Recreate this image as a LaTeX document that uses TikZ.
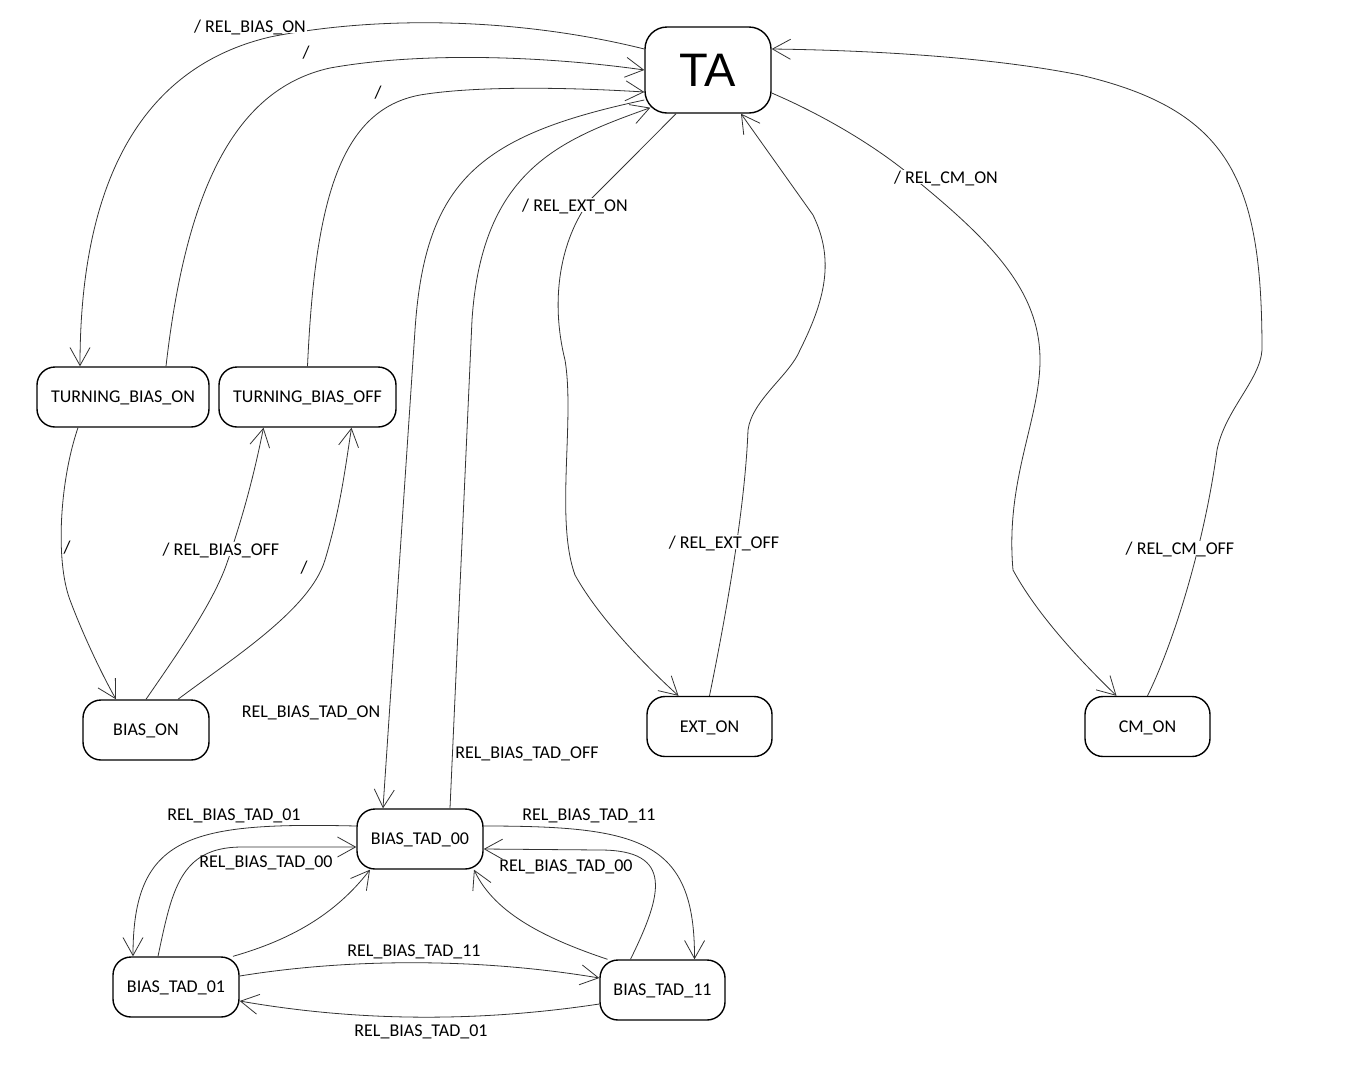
\documentclass[tikz,border=0pt]{standalone}
\usepackage{fontspec}
\setmainfont{Carlito}
\newfontfamily\tafont{Liberation Sans}
\usetikzlibrary{arrows.meta}

\begin{document}
\begin{tikzpicture}[x=1pt,y=-1pt,
	state/.style={draw, line width=1.4pt, rounded corners=18pt, minimum width=126pt, minimum height=60pt, inner sep=0pt, text depth=0pt, font=\fontsize{18}{20}\selectfont},
	bigstate/.style={state, rounded corners=22pt, minimum height=86pt, font=\tafont\fontsize{47}{50}\selectfont},
	tr/.style={draw=black!80, line width=0.8pt, -{Straight Barb[length=18pt,width=20pt]}},
	lbl/.style={font=\fontsize{18}{20}\selectfont, inner sep=1pt, text depth=0pt},
	lblcut/.style={lbl, fill=white}]
	\useasboundingbox (0,0) rectangle (1369,1069);
	% states
	\node[bigstate] (TA) at (708,70) {TA};
	\node[state, minimum width=172pt] (tbon) at (123,397) {TURNING\_BIAS\_ON};
	\node[state, minimum width=177pt] (tboff) at (307.5,397) {TURNING\_BIAS\_OFF};
	\node[state] (bon) at (146,730) {BIAS\_ON};
	\node[state, minimum width=125pt] (exton) at (709.5,726.5) {EXT\_ON};
	\node[state, minimum width=125pt] (cmon) at (1147.5,726.5) {CM\_ON};
	\node[state] (tad00) at (420,839) {BIAS\_TAD\_00};
	\node[state] (tad01) at (176,987) {BIAS\_TAD\_01};
	\node[state, minimum width=125pt] (tad11) at (662.5,990) {BIAS\_TAD\_11};
	% transitions of TA
	\draw[tr] ([yshift=21pt]TA.west) .. controls (520,18) and (380,15) .. (270,37) .. controls (130,70) and (80,200) .. ([xshift=-43pt]tbon.north);
	\draw[tr] ([xshift=43pt]tbon.north) .. controls (185,200) and (230,90) .. (330,68) .. controls (430,50) and (560,58) .. (TA.west);
	\draw[tr] (tboff.north) .. controls (315,200) and (340,110) .. (420,95) .. controls (480,85) and (580,88) .. ([yshift=-22pt]TA.west);
	\draw[tr] ([yshift=-30pt]TA.west) .. controls (480,135) and (425,180) .. (415,330) -- ([xshift=-37pt]tad00.north);
	\draw[tr] ([xshift=30pt]tad00.north) -- (472,320) .. controls (482,170) and (560,140) .. ([xshift=6pt,yshift=6pt]TA.south west);
	\draw[tr] ([xshift=-32pt]TA.south) .. controls (640,150) and (610,180) .. (590,200) .. controls (560,240) and (550,300) .. (565,360) .. controls (575,420) and (555,520) .. (575,575) .. controls (600,620) and (650,670) .. ([xshift=-31pt]exton.north);
	\draw[tr] (exton.north) .. controls (725,620) and (745,510) .. (748,430) .. controls (752,400) and (790,375) .. (800,350) .. controls (825,300) and (835,260) .. (813,215) -- ([xshift=33pt]TA.south);
	\draw[tr] ([yshift=-23pt]TA.east) .. controls (830,118) and (880,150) .. (910,175) .. controls (990,240) and (1040,290) .. (1040,360) .. controls (1040,420) and (1005,480) .. (1013,570) .. controls (1040,620) and (1090,670) .. ([xshift=-31pt]cmon.north);
	\draw[tr] (cmon.north) .. controls (1175,640) and (1205,540) .. (1217,450) .. controls (1225,410) and (1260,380) .. (1262,350) .. controls (1262,180) and (1230,110) .. (1080,75) .. controls (980,55) and (850,50) .. ([yshift=21pt]TA.east);
	% bias on / off
	\draw[tr] ([xshift=-45pt]tbon.south) .. controls (60,480) and (55,560) .. (70,600) .. controls (85,640) and (105,680) .. ([xshift=-30pt]bon.north);
	\draw[tr] (bon.north) .. controls (180,650) and (215,600) .. (228,560) .. controls (245,510) and (255,470) .. ([xshift=-44pt]tboff.south);
	\draw[tr] ([xshift=32pt]bon.north) .. controls (230,660) and (310,610) .. (325,560) .. controls (340,510) and (345,470) .. ([xshift=44pt]tboff.south);
	% tad states
	\draw[tr] ([yshift=13pt]tad00.west) .. controls (190,822) and (133,835) .. ([xshift=-43pt]tad01.north);
	\draw[tr] ([xshift=-18pt]tad01.north) .. controls (172,890) and (180,848) .. (240,847) -- ([yshift=-8pt]tad00.west);
	\draw[tr] ([xshift=57pt]tad01.north) .. controls (290,940) and (335,915) .. ([xshift=-50pt]tad00.south);
	\draw[tr] ([yshift=11pt]tad01.east) .. controls (350,958) and (480,958) .. ([yshift=12pt]tad11.west);
	\draw[tr] ([yshift=-14pt]tad11.west) .. controls (480,1022) and (360,1022) .. ([yshift=-14pt]tad01.east);
	\draw[tr] ([yshift=13pt]tad00.east) .. controls (640,826) and (695,840) .. ([xshift=32pt]tad11.north);
	\draw[tr] ([xshift=-32pt]tad11.north) .. controls (662,895) and (675,850) .. (600,850) -- ([yshift=-10pt]tad00.east);
	\draw[tr] ([xshift=-55pt]tad11.north) .. controls (550,940) and (495,915) .. ([xshift=54pt]tad00.south);
	% labels
	\node[lblcut] (lbiason) at (250,26) {/ REL\_BIAS\_ON};
	\node[lbl] (lslb) at (306,52) {/};
	\node[lbl] (lslc) at (378,92) {/};
	\node[lblcut] (lexton) at (575,205) {/ REL\_EXT\_ON};
	\node[lblcut] (lcmon) at (946,177) {/ REL\_CM\_ON};
	\node[lbl] (lslj) at (67,547) {/};
	\node[lblcut] (lbiasoff) at (221,549) {/ REL\_BIAS\_OFF};
	\node[lbl] (lsll) at (304,567) {/};
	\node[lbl] (ltadon) at (311,712) {REL\_BIAS\_TAD\_ON};
	\node[lblcut] (lextoff) at (724,542) {/ REL\_EXT\_OFF};
	\node[lblcut] (lcmoff) at (1180,548) {/ REL\_CM\_OFF};
	\node[lbl] (ltadoff) at (527,753) {REL\_BIAS\_TAD\_OFF};
	\node[lbl] (lm) at (234,815) {REL\_BIAS\_TAD\_01};
	\node[lbl] (ln) at (266,862) {REL\_BIAS\_TAD\_00};
	\node[lbl] (lr) at (589,815) {REL\_BIAS\_TAD\_11};
	\node[lbl] (ls) at (566,866) {REL\_BIAS\_TAD\_00};
	\node[lbl] (lp) at (414,951) {REL\_BIAS\_TAD\_11};
	\node[lbl] (lq) at (421,1031) {REL\_BIAS\_TAD\_01};
\end{tikzpicture}
\end{document}
